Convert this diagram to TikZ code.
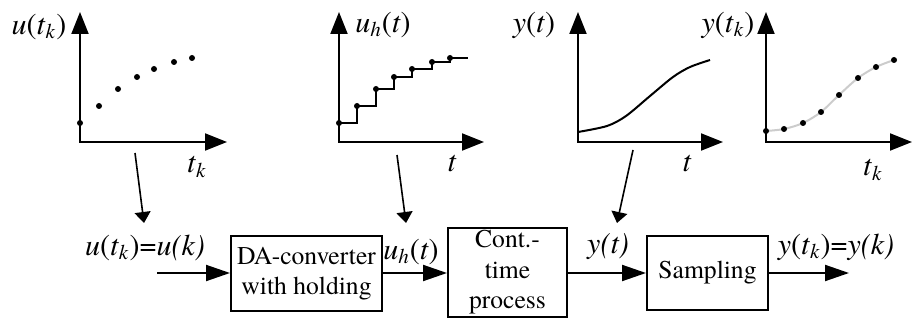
\documentclass[tikz,border=0pt]{standalone}
\usepackage{fontspec}
\setmainfont{texgyretermes}[Extension=.otf, UprightFont=*-regular, ItalicFont=*-italic, BoldFont=*-bold, BoldItalicFont=*-bolditalic]
\usetikzlibrary{arrows.meta}
\newcommand{\ti}[1]{\textit{#1}}
\newcommand{\tk}{\ti{t}\textsubscript{\ti{k}}}

\begin{document}
\begin{tikzpicture}[x=0.5pt, y=-0.5pt,
        every node/.style={font=\fontsize{15}{18}\selectfont, inner sep=0pt},
        axis/.style={{Triangle[length=11pt,width=8.5pt]}-{Triangle[length=11pt,width=8.5pt]}, line width=1pt},
        arr/.style={-{Triangle[length=12pt,width=8pt]}, line width=1pt},
        parr/.style={-{Triangle[length=5.5pt,width=8pt]}, line width=0.8pt},
        blk/.style={draw, line width=1pt, inner sep=0pt, align=center, font=\fontsize{12.8}{15.3}\selectfont},
        dot/.style={fill=black},
        sig/.style={line width=1pt}
    ]
        \useasboundingbox (0,0) rectangle (913,320);

        % Graph 1: samples u(t_k)
        \draw[axis] (80,12) -- (80,142) -- (227,142);
        \foreach \x/\y in {80/123, 99/106, 118/89, 137/77, 154/69, 174/62, 192/58}
            \fill[dot] (\x,\y) circle (1.5pt);
        \node (g1y) at (39,27) {\ti{u}(\tk)};
        \node (g1x) at (197,167) {\tk};

        % Graph 2: held signal u_h(t)
        \draw[axis] (339,12) -- (339,142) -- (484,142);
        \draw[sig] (339,123) -| (357,106) -| (376,89) -| (394,77) -| (412,69) -| (432,62) -| (450,58) -- (468,58);
        \foreach \x/\y in {339/123, 357/106, 376/89, 394/77, 412/69, 432/62, 450/58}
            \fill[dot] (\x,\y) circle (1.5pt);
        \node (g2y) at (383,25) {\ti{u}\textsubscript{\ti{h}}(\ti{t})};
        \node (g2x) at (452,163) {\ti{t}};

        % Graph 3: output y(t)
        \draw[axis] (578,12) -- (578,142) -- (723,142);
        \draw[sig] plot[smooth] coordinates {(578,132) (607,126) (626,116) (650,96) (673,77) (690,67) (710,60)};
        \node (g3y) at (534,25) {\ti{y}(\ti{t})};
        \node (g3x) at (687,163) {\ti{t}};

        % Graph 4: sampled output y(t_k)
        \draw[axis] (766,12) -- (766,142) -- (912,142);
        \draw[sig, black!20] plot[smooth] coordinates {(766,131) (784,129) (803,123) (821,112) (839,95) (858,78) (876,67) (894,60)};
        \foreach \x/\y in {766/131, 784/129, 803/123, 821/112, 839/95, 858/78, 876/67, 894/60}
            \fill[dot] (\x,\y) circle (1.5pt);
        \node (g4y) at (728,25) {\ti{y}(\tk)};
        \node (g4x) at (873,170) {\tk};

        % Block row
        \node[blk, minimum width=75.5pt, minimum height=37.5pt] (da) at (306.5,273.5) {DA-converter\\with holding};
        \node[blk, minimum width=59.5pt, minimum height=44.5pt] (ct) at (507.5,272.5) {Cont.-\\time\\process};
        \node[blk, minimum width=60.5pt, minimum height=37pt] (sp) at (707.5,273) {Sampling};
        \coordinate (in) at (157,273);
        \coordinate (out) at (849,273);

        \draw[arr] (in) -- (in -| da.west);
        \draw[arr] (da.east |- in) -- (ct.west |- in);
        \draw[arr] (ct.east |- in) -- (sp.west |- in);
        \draw[arr] (sp.east |- in) -- (out);

        \node (inlab) at (145,248) {\ti{u}(\tk)=\ti{u(k)}};
        \node (uhlab) at (411,252) {\ti{u}\textsubscript{\ti{h}}(\ti{t})};
        \node (ylab) at (608,247) {\ti{y(t)}};
        \node (outlab) at (836,247) {\ti{y}(\tk)=\ti{y(k)}};

        % Pointers from graphs to signals
        \coordinate (p1a) at (135,153);
        \coordinate (p1b) at (144,223);
        \coordinate (p2a) at (397,155);
        \coordinate (p2b) at (406,223);
        \coordinate (p3a) at (633,150);
        \coordinate (p3b) at (617,223);
        \draw[parr] (p1a) -- (p1b);
        \draw[parr] (p2a) -- (p2b);
        \draw[parr] (p3a) -- (p3b);
    \end{tikzpicture}
\end{document}
